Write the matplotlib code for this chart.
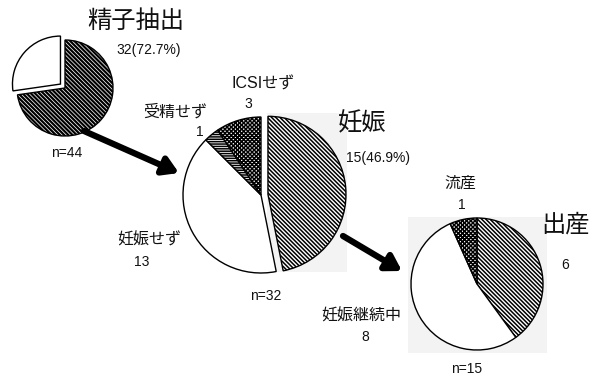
import matplotlib
matplotlib.use("Agg")
import matplotlib.pyplot as plt
from matplotlib.patches import Rectangle

plt.rcParams['font.family'] = ['Liberation Sans', 'Noto Sans CJK JP', 'DejaVu Sans']

# ---- data ----
extract_labels = ["精子抽出", "未抽出"]
extract_values = [32, 12]
ivf_labels = ["妊娠", "妊娠せず", "受精せず", "ICSIせず"]
ivf_values = [15, 13, 1, 3]
outcome_labels = ["出産", "妊娠継続中", "流産"]
outcome_values = [6, 8, 1]

W, H = 595, 376
fig = plt.figure(figsize=(W / 100, H / 100), dpi=100)
ax = fig.add_axes([0, 0, 1, 1])

def Y(y):
    return H - y

# background panels
ax.add_patch(Rectangle((267, Y(272)), 80, 159, facecolor='#f3f3f3', edgecolor='none', zorder=0))
ax.add_patch(Rectangle((408, Y(353)), 139, 136, facecolor='#f3f3f3', edgecolor='none', zorder=0))

# pie 1
with plt.rc_context({'hatch.linewidth': 1.6}):
    w1, _ = ax.pie(extract_values, center=(65, Y(88)), radius=48, startangle=90,
                   counterclock=False, explode=[0, 6],
                   colors=['white', 'white'],
                   wedgeprops=dict(edgecolor='black', linewidth=1.0))
    w1[0].set_hatch('\\' * 8)
    for w in w1:
        w.set_zorder(2)

# pie 2
with plt.rc_context({'hatch.linewidth': 1.1}):
    w2, _ = ax.pie(ivf_values, center=(261, Y(195)), radius=78, startangle=90,
                   counterclock=False, explode=[7, 0, 0, 0],
                   colors=['white'] * 4,
                   wedgeprops=dict(edgecolor='black', linewidth=1.0))
    w2[0].set_hatch('\\' * 8)
    w2[2].set_hatch('-' * 7)
    w2[3].set_hatch('x' * 8)
    for w in w2:
        w.set_zorder(2)

# pie 3
with plt.rc_context({'hatch.linewidth': 1.1}):
    w3, _ = ax.pie(outcome_values, center=(477, Y(284)), radius=66, startangle=90,
                   counterclock=False,
                   colors=['white'] * 3,
                   wedgeprops=dict(edgecolor='black', linewidth=1.0))
    w3[0].set_hatch('\\' * 8)
    w3[2].set_hatch('x' * 8)
    for w in w3:
        w.set_zorder(2)

# arrows
arrow_kw = dict(arrowstyle='-|>,head_length=0.9,head_width=0.55', lw=4.5, color='black',
                shrinkA=0, shrinkB=0)
ax.annotate('', xy=(179, Y(173)), xytext=(84, Y(131)), arrowprops=arrow_kw, zorder=3)
ax.annotate('', xy=(402, Y(271)), xytext=(343, Y(236)), arrowprops=arrow_kw, zorder=3)

def txt(x, y, s, size=10):
    ax.text(x, Y(y), s, ha='center', va='center', fontsize=size, color='#111111', zorder=4)

big, cjk = 17.5, 11.5
txt(136, 22, extract_labels[0], big)
txt(149, 50, f"{extract_values[0]}({extract_values[0] / sum(extract_values) * 100:.1f}%)")
txt(67, 153, f"n={sum(extract_values)}")

txt(175, 112, ivf_labels[2], cjk)
txt(200, 132, str(ivf_values[2]))
txt(263, 84, ivf_labels[3], cjk)
txt(248, 104, str(ivf_values[3]))
txt(362, 124, ivf_labels[0], big)
txt(378, 158, f"{ivf_values[0]}({ivf_values[0] / sum(ivf_values) * 100:.1f}%)")
txt(149, 240, ivf_labels[1], cjk)
txt(142, 262, str(ivf_values[1]))
txt(266, 296, f"n={sum(ivf_values)}")

txt(460, 183, outcome_labels[2], cjk)
txt(462, 205, str(outcome_values[2]))
txt(565, 225, outcome_labels[0], big)
txt(565, 265, str(outcome_values[0]))
txt(361, 316, outcome_labels[1], cjk)
txt(365, 337, str(outcome_values[1]))
txt(467, 369, f"n={sum(outcome_values)}")

ax.set_xlim(0, W)
ax.set_ylim(0, H)
ax.set_aspect('auto')
ax.axis('off')

fig.savefig('out.png', dpi=100, facecolor='white')
